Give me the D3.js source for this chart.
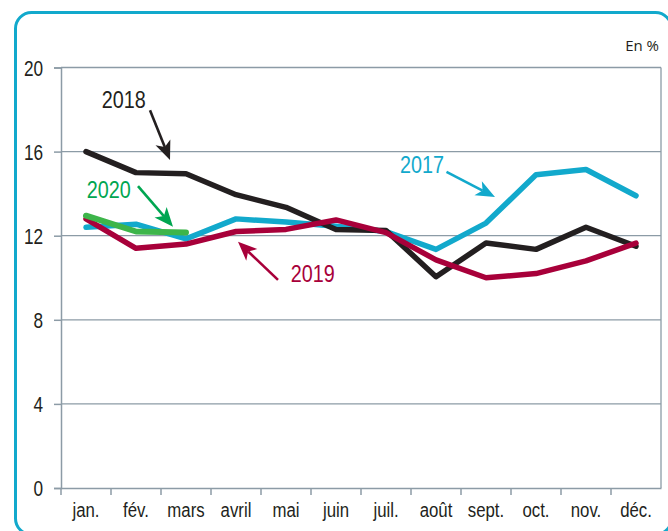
<!DOCTYPE html>
<html><head><meta charset="utf-8">
<script src="https://cdn.jsdelivr.net/npm/d3@7"></script>
<style>
html,body{margin:0;padding:0;background:#fff;}
svg{display:block;}
</style></head>
<body>
<svg id="chart" width="668" height="531"></svg>
<script>
const months = ["jan.","fév.","mars","avril","mai","juin","juil.","août","sept.","oct.","nov.","déc."];
const yTicks = [0,4,8,12,16,20];
const v2017 = [12.4, 12.55, 11.85, 12.8, 12.65, 12.45, 12.2, 11.35, 12.6, 14.9, 15.15, 13.9];
const v2018 = [16.0, 15.0, 14.95, 13.95, 13.35, 12.3, 12.25, 10.05, 11.65, 11.35, 12.4, 11.5];
const v2019 = [12.8, 11.4, 11.6, 12.2, 12.3, 12.75, 12.15, 10.85, 10.0, 10.2, 10.8, 11.65];
const v2020 = [12.95, 12.2, 12.15];
const seriesNames = ["2017","2018","2019","2020"];
const unitLabel = "En %";

const colors = {"2017":"#12a9cc","2018":"#231f20","2019":"#a8003a","2020":"#3db54a"};
const labelColors = {"2017":"#12a9cc","2018":"#231f20","2019":"#a8003a","2020":"#00a651"};

const svg = d3.select("#chart");
const M = {left:61, right:661, top:67.5, bottom:488};
const FONT = "'Liberation Sans',Arial,sans-serif";
const SQ = 0.8; // horizontal condensing for axis labels

// frame
svg.append("rect").attr("x",15.5).attr("y",12.5).attr("width",656).attr("height",522)
  .attr("rx",16).attr("fill","none").attr("stroke","#12a9cc").attr("stroke-width",3);

const x = d3.scaleBand().domain(months).range([M.left, M.right]);
const y = d3.scaleLinear().domain([0,20]).range([M.bottom, M.top]);
const gridColor = "#8c9ba6";

// gridlines
const grid = svg.append("g");
grid.selectAll("line").data(yTicks.filter(d=>d>0)).join("line")
  .attr("x1",M.left).attr("x2",M.right)
  .attr("y1",d=>y(d)).attr("y2",d=>y(d))
  .attr("stroke",gridColor).attr("stroke-width",1.3);
grid.append("line").attr("x1",M.right).attr("x2",M.right).attr("y1",M.top).attr("y2",M.bottom)
  .attr("stroke",gridColor).attr("stroke-width",1.3);

// y axis
const yAxis = svg.append("g").attr("transform",`translate(${M.left},0)`)
  .call(d3.axisLeft(y).tickValues(yTicks).tickSize(7).tickPadding(11));
yAxis.select(".domain").attr("stroke",gridColor).attr("stroke-width",1.5);
yAxis.selectAll(".tick line").attr("stroke",gridColor).attr("stroke-width",1.5);
yAxis.selectAll("text").attr("font-family",FONT)
  .attr("font-size",21.5).attr("fill","#231f20").attr("dy","0.36em")
  .attr("x",-18/SQ).attr("transform",`scale(${SQ},1)`);

// x axis
const xAxis = svg.append("g").attr("transform",`translate(0,${M.bottom})`)
  .call(d3.axisBottom(x).tickSize(0).tickPadding(20));
xAxis.select(".domain").attr("stroke",gridColor).attr("stroke-width",1.5);
xAxis.selectAll("text").attr("font-family",FONT)
  .attr("font-size",21).attr("fill","#231f20").attr("dy","0.45em")
  .attr("transform",`scale(${SQ},1)`);
// tick marks at band boundaries
xAxis.selectAll("line.bt").data(months).join("line").attr("class","bt")
  .attr("x1",d=>x(d)).attr("x2",d=>x(d)).attr("y1",0).attr("y2",7)
  .attr("stroke",gridColor).attr("stroke-width",1.5);

// unit label
svg.append("text").attr("x",659).attr("y",51).attr("text-anchor","end")
  .attr("font-family","'Open Sans',sans-serif").attr("font-size",15).attr("fill","#231f20")
  .text(unitLabel);

// lines
const line = d3.line().x((d,i)=>x(months[i])+x.bandwidth()/2).y(d=>y(d));
const seriesData = {"2017":v2017,"2018":v2018,"2019":v2019,"2020":v2020};
const widths = {"2017":5.5,"2018":5.5,"2019":5.5,"2020":6};
seriesNames.forEach(n=>{
  svg.append("path").datum(seriesData[n]).attr("d",line)
    .attr("fill","none").attr("stroke",colors[n]).attr("stroke-width",widths[n])
    .attr("stroke-linejoin","round").attr("stroke-linecap","round");
});

// annotations: positions in data units (month index, value)
const xi = i => M.left + x.step()*(i+0.5);
const annotations = [
  {name:"2018", tx:0.314, ty:18.06, from:[1.28,17.97], to:[1.68,15.6]},
  {name:"2020", tx:0.014, ty:13.78, from:[1.04,14.36], to:[1.74,12.43]},
  {name:"2019", tx:4.094, ty:9.81, from:[3.84,9.9], to:[3.04,11.71]},
  {name:"2017", tx:6.28, ty:14.99, from:[7.21,15.04], to:[8.18,13.84]}
];
annotations.forEach(a=>{
  const c = labelColors[a.name];
  svg.append("text").attr("transform",`translate(${xi(a.tx)},${y(a.ty)}) scale(0.9,1.05)`)
    .attr("font-family",FONT).attr("font-size",22)
    .attr("fill",c).text(a.name);
  const x1 = xi(a.from[0]), y1 = y(a.from[1]), x2 = xi(a.to[0]), y2 = y(a.to[1]);
  const ang = Math.atan2(y2-y1, x2-x1);
  const L = 19, W = 8, notch = 5;
  const bx = x2 - L*Math.cos(ang), by = y2 - L*Math.sin(ang);
  svg.append("line").attr("x1",x1).attr("y1",y1)
    .attr("x2",x2 - (L-notch)*Math.cos(ang)).attr("y2",y2 - (L-notch)*Math.sin(ang))
    .attr("stroke",c).attr("stroke-width",2.6);
  const px = -Math.sin(ang), py = Math.cos(ang);
  const nx = x2 - (L-notch)*Math.cos(ang), ny = y2 - (L-notch)*Math.sin(ang);
  const pts = [[x2,y2],[bx+px*W,by+py*W],[nx,ny],[bx-px*W,by-py*W]];
  svg.append("path").attr("d","M"+pts.map(p=>p.join(",")).join("L")+"Z").attr("fill",c);
});
</script>
</body></html>
